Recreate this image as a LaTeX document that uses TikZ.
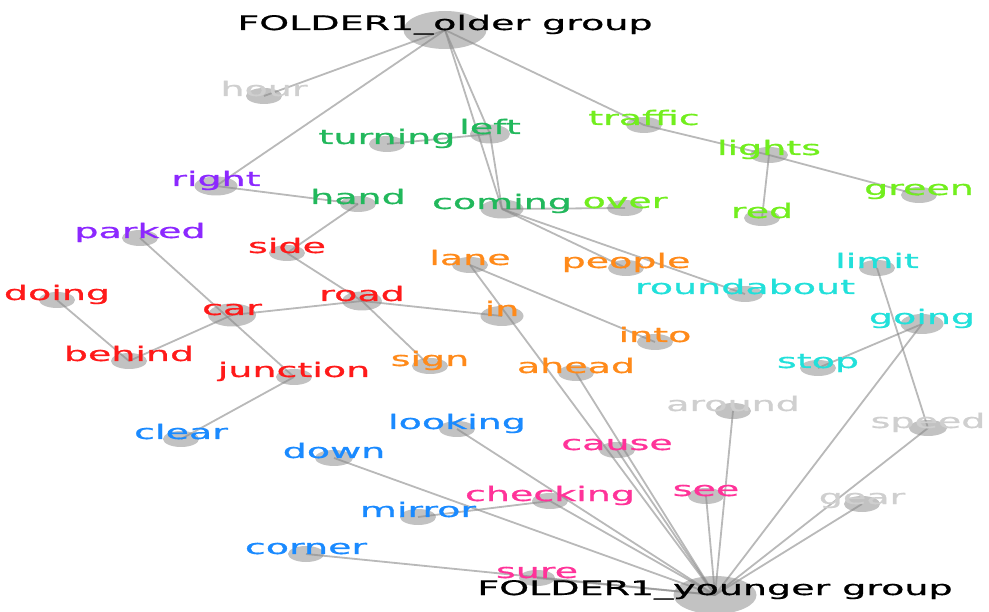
\documentclass[tikz,border=0pt]{standalone}
\usepackage{fontspec}
\newfontfamily\wordfont{DejaVu Sans}[FakeBold=0.7]
\usetikzlibrary{shapes.geometric}

\definecolor{dotgray}{HTML}{C2C2C2}
\definecolor{edgegray}{HTML}{8A8A8A}
\definecolor{wgray}{HTML}{CFCFCF}
\definecolor{wdgreen}{HTML}{22B85C}
\definecolor{wlime}{HTML}{72EE1E}
\definecolor{wpurple}{HTML}{8C28FF}
\definecolor{wred}{HTML}{FF1A1A}
\definecolor{worange}{HTML}{FF8A1A}
\definecolor{wcyan}{HTML}{22E0DA}
\definecolor{wblue}{HTML}{1A8AFF}
\definecolor{wpink}{HTML}{FF3399}

\begin{document}
\begin{tikzpicture}[x=1pt, y=-1pt,
		dot/.style={ellipse, fill=dotgray, inner sep=0pt, minimum width=36pt, minimum height=16pt},
		middot/.style={dot, minimum width=43pt, minimum height=19pt},
		hub/.style={dot, minimum width=83pt, minimum height=38pt},
		word/.style={font=\wordfont\fontsize{20}{24}\selectfont, anchor=base, inner sep=0pt, xscale=1.9},
		edge/.style={draw=edgegray, line width=1.8pt, opacity=.6},
	]
	\useasboundingbox (0,0) rectangle (989,612);

	% hubs
	\node[hub] (older) at (445,30) {};
	\node[hub] (younger) at (715,595) {};

	% word dots
	\node[dot] (hour) at (264,96) {};
	\node[dot] (turning) at (387,144) {};
	\node[middot, minimum width=40pt] (left) at (490,134) {};
	\node[middot] (right) at (216,186) {};
	\node[dot] (hand) at (358,204) {};
	\node[middot] (coming) at (502,209) {};
	\node[dot] (over) at (625,208) {};
	\node[dot] (traffic) at (644,125) {};
	\node[dot, minimum width=38pt] (lights) at (769,155) {};
	\node[dot] (green) at (919,195) {};
	\node[dot] (red) at (762,218) {};
	\node[dot] (parked) at (140,238) {};
	\node[dot] (side) at (287,253) {};
	\node[dot] (doing) at (57,300) {};
	\node[middot, minimum width=48pt, minimum height=23pt] (car) at (232,315) {};
	\node[middot, minimum width=40pt] (road) at (362,301) {};
	\node[dot] (behind) at (129,361) {};
	\node[dot] (junction) at (294,377) {};
	\node[dot] (lane) at (470,265) {};
	\node[dot] (people) at (626,268) {};
	\node[middot, minimum height=20pt] (in) at (502,316) {};
	\node[dot] (into) at (655,342) {};
	\node[dot] (sign) at (430,366) {};
	\node[dot] (ahead) at (576,373) {};
	\node[dot] (limit) at (877,268) {};
	\node[dot] (roundabout) at (745,294) {};
	\node[middot, minimum height=20pt] (going) at (922,324) {};
	\node[dot] (stop) at (818,368) {};
	\node[dot] (around) at (733,411) {};
	\node[dot, minimum width=38pt] (speed) at (928,428) {};
	\node[dot] (gear) at (862,504) {};
	\node[dot] (clear) at (181,439) {};
	\node[dot] (looking) at (457,429) {};
	\node[dot, minimum width=38pt] (down) at (334,458) {};
	\node[dot] (mirror) at (418,517) {};
	\node[dot] (corner) at (306,554) {};
	\node[dot] (cause) at (617,450) {};
	\node[dot] (checking) at (550,501) {};
	\node[dot] (see) at (706,496) {};
	\node[dot] (sure) at (537,578) {};

	% connectors
	\foreach \a/\b in {older/hour, older/right, older/left, older/coming, left/coming,
			older/traffic, turning/left, right/hand, hand/side, side/road,
			coming/over, coming/people, coming/roundabout, traffic/lights,
			lights/green, lights/red, parked/junction, doing/behind, behind/car,
			car/road, road/in, road/sign, lane/into, lane/younger, ahead/younger,
			cause/younger, junction/clear, looking/younger, down/younger,
			mirror/checking, checking/younger, corner/younger, sure/younger,
			see/younger, around/younger, going/younger, going/stop,
			speed/younger, gear/younger, limit/speed}
		\draw[edge] (\a.center) -- (\b.center);

	% labels
	\node[word] (older-t) at (older.center) {FOLDER1\_older group};
	\node[word] (younger-t) at (younger.center) {FOLDER1\_younger group};

	\node[word, text=wgray] (hour-t) at (hour.center) {hour};
	\node[word, text=wgray] (around-t) at (around.center) {around};
	\node[word, text=wgray] (speed-t) at (speed.center) {speed};
	\node[word, text=wgray] (gear-t) at (gear.center) {gear};

	\node[word, text=wdgreen] (turning-t) at (turning.center) {turning};
	\node[word, text=wdgreen] (left-t) at (left.center) {left};
	\node[word, text=wdgreen] (hand-t) at (hand.center) {hand};
	\node[word, text=wdgreen] (coming-t) at (coming.center) {coming};

	\node[word, text=wlime] (traffic-t) at (traffic.center) {traffic};
	\node[word, text=wlime] (lights-t) at (lights.center) {lights};
	\node[word, text=wlime] (green-t) at (green.center) {green};
	\node[word, text=wlime] (over-t) at (over.center) {over};
	\node[word, text=wlime] (red-t) at (red.center) {red};

	\node[word, text=wpurple] (right-t) at (right.center) {right};
	\node[word, text=wpurple] (parked-t) at (parked.center) {parked};

	\node[word, text=wred] (doing-t) at (doing.center) {doing};
	\node[word, text=wred] (side-t) at (side.center) {side};
	\node[word, text=wred] (car-t) at (car.center) {car};
	\node[word, text=wred] (road-t) at (road.center) {road};
	\node[word, text=wred] (behind-t) at (behind.center) {behind};
	\node[word, text=wred] (junction-t) at (junction.center) {junction};

	\node[word, text=worange] (lane-t) at (lane.center) {lane};
	\node[word, text=worange] (people-t) at (people.center) {people};
	\node[word, text=worange] (in-t) at (in.center) {in};
	\node[word, text=worange] (into-t) at (into.center) {into};
	\node[word, text=worange] (sign-t) at (sign.center) {sign};
	\node[word, text=worange] (ahead-t) at (ahead.center) {ahead};

	\node[word, text=wcyan] (limit-t) at (limit.center) {limit};
	\node[word, text=wcyan] (roundabout-t) at (roundabout.center) {roundabout};
	\node[word, text=wcyan] (going-t) at (going.center) {going};
	\node[word, text=wcyan] (stop-t) at (stop.center) {stop};

	\node[word, text=wblue] (clear-t) at (clear.center) {clear};
	\node[word, text=wblue] (looking-t) at (looking.center) {looking};
	\node[word, text=wblue] (down-t) at (down.center) {down};
	\node[word, text=wblue] (mirror-t) at (mirror.center) {mirror};
	\node[word, text=wblue] (corner-t) at (corner.center) {corner};

	\node[word, text=wpink] (cause-t) at (cause.center) {cause};
	\node[word, text=wpink] (checking-t) at (checking.center) {checking};
	\node[word, text=wpink] (see-t) at (see.center) {see};
	\node[word, text=wpink] (sure-t) at (sure.center) {sure};
\end{tikzpicture}
\end{document}
